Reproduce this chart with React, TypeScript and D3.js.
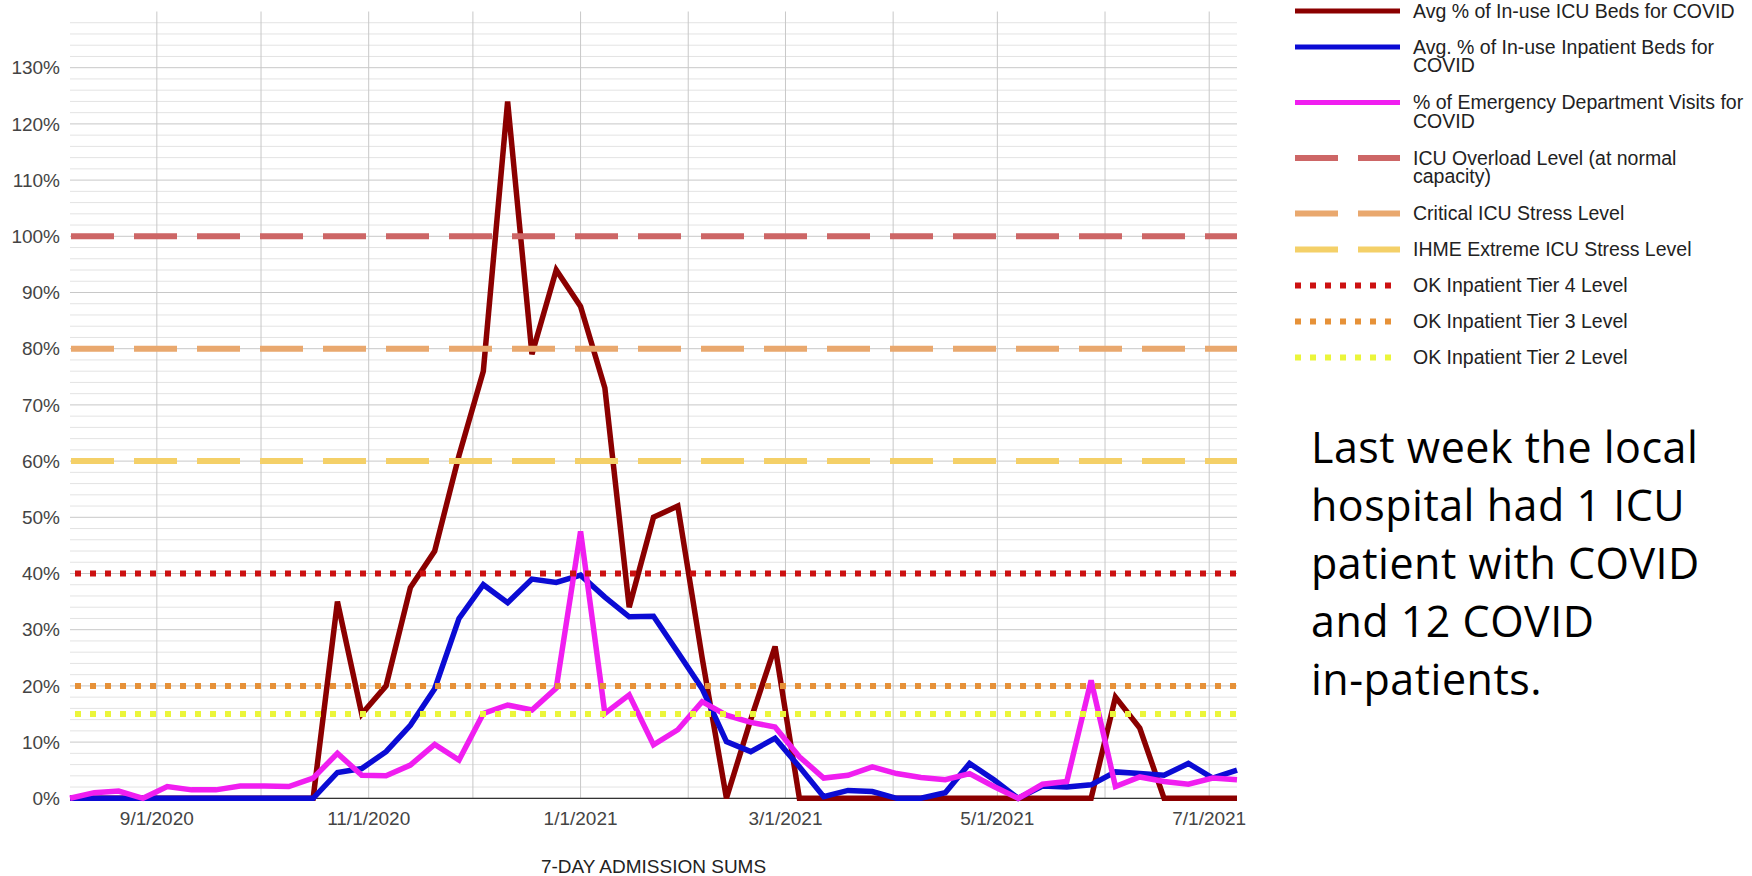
import React from 'react';
import * as d3 from 'd3';

// weekly points (7-day sums)
const weeks = [
  '2020-08-07', '2020-08-14', '2020-08-21', '2020-08-28', '2020-09-04', '2020-09-11', '2020-09-18',
  '2020-09-25', '2020-10-02', '2020-10-09', '2020-10-16', '2020-10-23', '2020-10-30', '2020-11-06',
  '2020-11-13', '2020-11-20', '2020-11-27', '2020-12-04', '2020-12-11', '2020-12-18', '2020-12-25',
  '2021-01-01', '2021-01-08', '2021-01-15', '2021-01-22', '2021-01-29', '2021-02-05', '2021-02-12',
  '2021-02-19', '2021-02-26', '2021-03-05', '2021-03-12', '2021-03-19', '2021-03-26', '2021-04-02',
  '2021-04-09', '2021-04-16', '2021-04-23', '2021-04-30', '2021-05-07', '2021-05-14', '2021-05-21',
  '2021-05-28', '2021-06-04', '2021-06-11', '2021-06-18', '2021-06-25', '2021-07-02', '2021-07-09',
];

const icuBeds = [
  0, 0, 0, 0, 0, 0, 0, 0, 0, 0, 0, 35, 15, 20, 37.5, 44, 61, 76, 124, 79, 94, 87.5, 73, 34, 50,
  52, 25, 0, 14, 27, 0, 0, 0, 0, 0, 0, 0, 0, 0, 0, 0, 0, 0, 18, 12.5, 0, 0, 0, 0,
];

const inpatientBeds = [
  0, 0, 0, 0, 0, 0, 0, 0, 0, 0, 0, 4.6, 5.3, 8.3, 13, 19.5, 32, 38, 34.8, 39, 38.4, 39.7, 35.8, 32.3,
  32.4, 26, 19.5, 10.1, 8.3, 10.7, 5.6, 0.3, 1.4, 1.2, 0, 0, 1, 6.2, 3.3, 0, 2.2, 2, 2.4, 4.7, 4.4,
  4.1, 6.2, 3.6, 5,
];

const edVisits = [
  0, 1, 1.3, 0, 2.1, 1.5, 1.5, 2.2, 2.2, 2.1, 3.6, 8, 4.1, 4, 5.9, 9.6, 6.8, 15.1, 16.6, 15.7, 19.6,
  47.5, 15.1, 18.4, 9.5, 12.2, 17.2, 14.8, 13.5, 12.7, 7.4, 3.6, 4.1, 5.6, 4.4, 3.7, 3.3, 4.4, 2.1,
  0, 2.5, 3, 21, 2.1, 3.8, 3, 2.5, 3.6, 3.3,
];

const levels = [100, 80, 60, 40, 20, 15];

const legendLabels = [
  ['Avg % of In-use ICU Beds for COVID'],
  ['Avg. % of In-use Inpatient Beds for', 'COVID'],
  ['% of Emergency Department Visits for', 'COVID'],
  ['ICU Overload Level (at normal', 'capacity)'],
  ['Critical ICU Stress Level'],
  ['IHME Extreme ICU Stress Level'],
  ['OK Inpatient Tier 4 Level'],
  ['OK Inpatient Tier 3 Level'],
  ['OK Inpatient Tier 2 Level'],
];

const note = ['Last week the local', 'hospital had 1 ICU', 'patient with COVID', 'and 12 COVID', 'in-patients.'];

// styles
const seriesColors = ['#8b0000', '#0b0bd4', '#f01ef0'];
const levelColors = ['#cd6666', '#e9a86e', '#f4d068', '#cc1111', '#e69138', '#ebf53a'];
const levelDash = ['43 20', '43 20', '43 20', '6 9', '6 9', '6 9'];
const font = 'Arial, "Liberation Sans", sans-serif';

const W = 1752;
const H = 876;
const box = { left: 70, right: 1237, top: 11.5, bottom: 798.3 };

export default function App() {
  const parse = d3.timeParse('%Y-%m-%d');
  const dates = weeks.map(d => parse(d) as Date);
  const x = d3.scaleTime().domain([dates[0], dates[dates.length - 1]]).range([box.left, box.right]);
  const y = d3.scaleLinear().domain([0, 140]).range([box.bottom, box.top]);
  const line = d3.line<number>().x((_, i) => x(dates[i])).y(v => y(v));

  const major = d3.range(0, 140, 10);
  const minor = d3.range(2, 140, 2).filter(v => v % 10 !== 0);
  const months = d3.timeMonth.range(d3.timeMonth.ceil(dates[0]), dates[dates.length - 1]);
  const labelled = months.filter(d => d.getMonth() % 2 === 0);
  const fmtDate = d3.timeFormat('%-m/%-d/%Y');
  const fmtPct = d3.format('.0%');

  let ly = 11;
  const legendY = legendLabels.map(l => {
    const v = ly;
    ly += 36 + 19.5 * (l.length - 1);
    return v;
  });

  return (
    <svg width={W} height={H} style={{ position: 'absolute', left: 0, top: 0, background: '#fff' }}>
      <g>
        {minor.map(v => (
          <line key={'mi' + v} x1={box.left} x2={box.right} y1={y(v)} y2={y(v)} stroke="#e3e3e3" strokeWidth={1} />
        ))}
        {major.map(v => (
          <line key={'ma' + v} x1={box.left} x2={box.right} y1={y(v)} y2={y(v)} stroke="#c8c8c8" strokeWidth={1} />
        ))}
        {months.map(d => (
          <line key={'m' + d.getTime()} x1={x(d)} x2={x(d)} y1={box.top} y2={box.bottom} stroke="#c8c8c8" strokeWidth={1} />
        ))}
        <line x1={box.left} x2={box.right} y1={y(0)} y2={y(0)} stroke="#333" strokeWidth={1.2} />
      </g>

      <g fontFamily={font} fontSize={19} fill="#444">
        {major.map(v => (
          <text key={'yl' + v} x={60} y={y(v)} dy="0.35em" textAnchor="end">{fmtPct(v / 100)}</text>
        ))}
        {labelled.map(d => (
          <text key={'xl' + d.getTime()} x={x(d)} y={825} textAnchor="middle">{fmtDate(d)}</text>
        ))}
        <text x={(box.left + box.right) / 2} y={873} textAnchor="middle" fill="#222">7-DAY ADMISSION SUMS</text>
      </g>

      <g fill="none" strokeWidth={5.5}>
        {[icuBeds, inpatientBeds, edVisits].map((s, i) => (
          <path key={'s' + i} d={line(s) ?? ''} stroke={seriesColors[i]} />
        ))}
      </g>

      <g>
        {levels.map((v, i) => (
          <line key={'lv' + v} x1={box.left + 1} x2={box.right} y1={y(v)} y2={y(v)}
            stroke={levelColors[i]} strokeWidth={6} strokeDasharray={levelDash[i]}
            strokeDashoffset={i < 3 ? 0 : -4} />
        ))}
      </g>

      <g fontFamily={font} fontSize={19.5} fill="#222">
        {legendLabels.map((lab, i) => {
          const yy = legendY[i];
          const color = i < 3 ? seriesColors[i] : levelColors[i - 3];
          const dash = i < 3 ? undefined : (i < 6 ? '43 20' : '6 9');
          return (
            <g key={'lg' + i}>
              <line x1={1295} x2={i >= 6 ? 1392 : 1400} y1={yy} y2={yy} stroke={color}
                strokeWidth={i < 3 ? 5 : 6} strokeDasharray={dash} />
              {lab.map((t, k) => (
                <text key={k} x={1413} y={yy + k * 18.5} dy="0.35em">{t}</text>
              ))}
            </g>
          );
        })}
      </g>

      <g fontFamily='"Open Sans", "Noto Sans", sans-serif' fontSize={43} letterSpacing={0.5} fill="#000">
        {note.map((t, i) => (
          <text key={'n' + i} x={1311} y={463 + i * 58}>{t}</text>
        ))}
      </g>
    </svg>
  );
}
